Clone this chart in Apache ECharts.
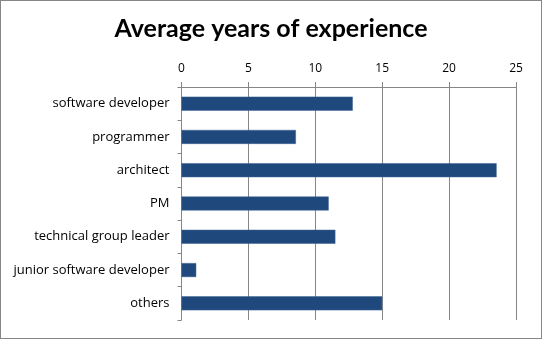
<!DOCTYPE html>
<html><head><meta charset="utf-8">
<script src="https://cdn.jsdelivr.net/npm/echarts@6/dist/echarts.min.js"></script>
<style>html,body{margin:0;padding:0;background:#fff}#c{width:542px;height:339px;box-sizing:border-box;border:1px solid #868686}</style>
</head><body><div id="c"></div>
<script>
var categories = ['software developer','programmer','architect','PM','technical group leader','junior software developer','others'];
var values = [12.8, 8.55, 23.55, 11, 11.5, 1.1, 15];
var chart = echarts.init(document.getElementById('c'), null, {renderer:'canvas'});
var titleFont = 'Lato';
var font = 'Open Sans';
chart.setOption({
  animation:false,
  title:{text:'Average years of experience', left:'center', top:10,
    textStyle:{fontFamily:titleFont, fontWeight:'bold', fontSize:25, color:'#000'}},
  grid:{left:180.5, right:25, top:86, bottom:18, containLabel:false},
  xAxis:{type:'value', position:'top', min:0, max:25, interval:5,
    axisLine:{show:true, lineStyle:{color:'#868686'}},
    axisTick:{show:true, length:5, lineStyle:{color:'#868686'}},
    axisLabel:{fontFamily:font, fontSize:12, color:'#000', margin:12},
    splitLine:{show:true, lineStyle:{color:'#868686'}}},
  yAxis:{type:'category', data:categories, inverse:true,
    axisLine:{show:true, lineStyle:{color:'#868686'}},
    axisTick:{show:true, length:4, lineStyle:{color:'#868686'}},
    axisLabel:{fontFamily:font, fontSize:13, color:'#000', margin:12}},
  series:[{type:'bar', data:values, barCategoryGap:'58%',
    itemStyle:{color:'#1F497D', borderColor:'#3d6193', borderWidth:0.5}}]
});
</script></body></html>
